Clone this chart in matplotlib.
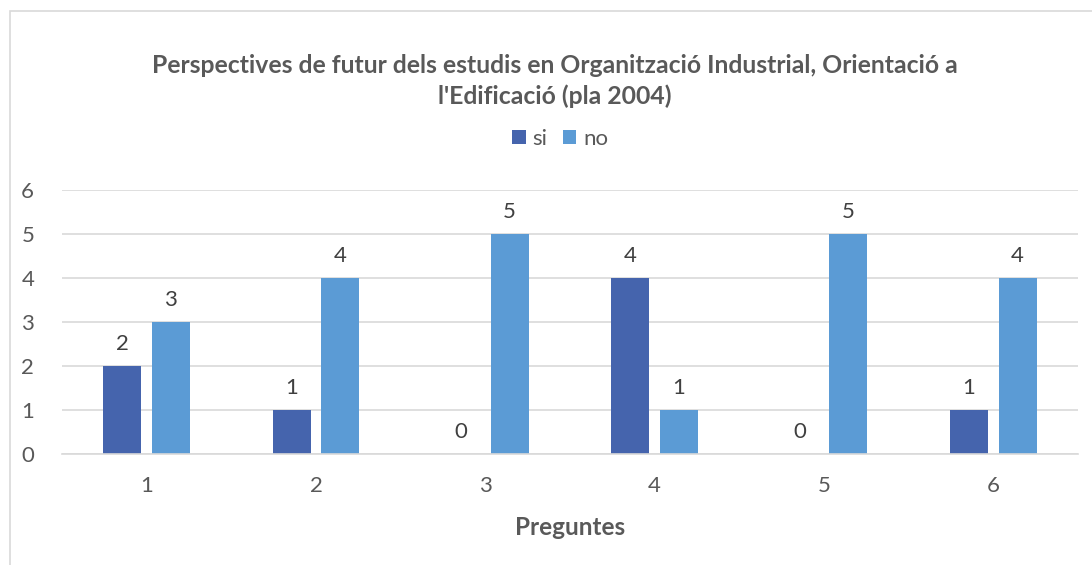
import numpy as np
import matplotlib.pyplot as plt
from matplotlib.patches import Rectangle

plt.rcParams['font.family'] = ['Lato', 'DejaVu Sans']

preguntes = ['1', '2', '3', '4', '5', '6']
si = [2, 1, 0, 4, 0, 1]
no = [3, 4, 5, 1, 5, 4]

c_si = '#4564AD'
c_no = '#5B9BD5'
grey = '#595959'

fig = plt.figure(figsize=(10.92, 5.65), dpi=100)
ax = fig.add_axes([62 / 1092, 1 - 454 / 565, (1078 - 62) / 1092, (454 - 190) / 565])

# chart area border (only left and top visible in the reference)
fig.add_artist(Rectangle((10 / 1092, -0.1), 1.1, 1 - 11 / 565 + 0.1,
                         transform=fig.transFigure, fill=False,
                         edgecolor='#D9D9D9', lw=1.2))

x = np.arange(len(preguntes))
w = 0.224
off = 0.143
b1 = ax.bar(x - off, si, w, color=c_si, label='si')
b2 = ax.bar(x + off, no, w, color=c_no, label='no')
ax.bar_label(b1, padding=9, fontsize=16, color='#404040')
ax.bar_label(b2, padding=9, fontsize=16, color='#404040')

ax.set_xlim(-0.5, len(preguntes) - 0.5)
ax.set_ylim(0, 6)
ax.set_yticks(range(7))
ax.set_xticks(x)
ax.set_xticklabels(preguntes)
ax.yaxis.grid(True, color='#D9D9D9', lw=1.2)
ax.set_axisbelow(True)
for s in ['top', 'right', 'left']:
    ax.spines[s].set_visible(False)
ax.spines['bottom'].set_color('#D9D9D9')
ax.spines['bottom'].set_linewidth(1.2)
ax.tick_params(length=0, labelsize=16, labelcolor=grey)
ax.tick_params(axis='y', pad=20)
ax.tick_params(axis='x', pad=16)

ax.set_xlabel('Preguntes', fontsize=17.5, fontweight='bold', color=grey, labelpad=14)

fig.text(0.508, 1 - 81 / 565,
         "Perspectives de futur dels estudis en Organització Industrial, Orientació a\nl'Edificació (pla 2004)",
         ha='center', va='center', fontsize=17.8, fontweight='bold', color=grey,
         linespacing=1.4)

fig.legend(loc='center', bbox_to_anchor=(0.513, 1 - 139 / 565), ncol=2, frameon=False,
           fontsize=16, labelcolor=grey, handlelength=0.6, handleheight=0.6,
           handletextpad=0.3, columnspacing=0.7)

fig.savefig('out.png', dpi=100)
